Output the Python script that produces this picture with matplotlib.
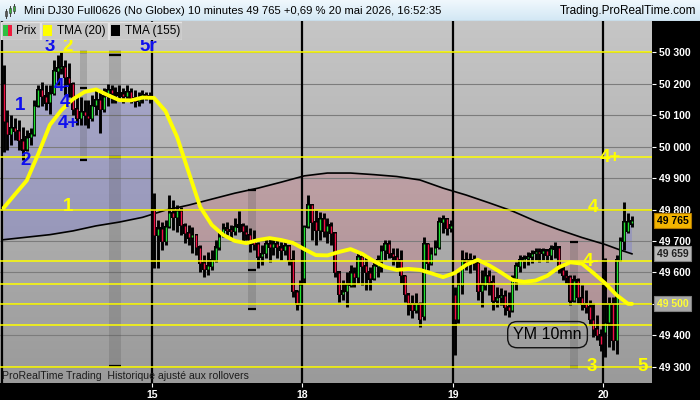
import numpy as np
import matplotlib
matplotlib.use("Agg")
import matplotlib.pyplot as plt
from matplotlib.patches import Rectangle
from matplotlib.colors import LinearSegmentedColormap
import matplotlib.transforms as mtrans

plt.rcParams['font.family'] = ['Liberation Sans', 'DejaVu Sans']

# ---------------- data ----------------
day_labels = ['15', '18', '19', '20']
day_starts = [0, 39, 78, 117, 156]          # first bar index of each session

opens = [50200, 50080, 50040, 50060, 50050, 50020, 49990, 50030, 50040, 50130,
         50180, 50160, 50140, 50170, 50240, 50250, 50255, 50220, 50200, 50120,
         50090, 50110, 50100, 50090, 50130, 50150, 50120, 50160, 50180, 50170,
         50165, 50170, 50160, 50175, 50155, 50145, 50150, 50165, 50160,
         49800, 49718, 49740, 49700, 49745, 49790, 49775, 49795, 49750, 49725,
         49710, 49720, 49680, 49630, 49610, 49620, 49640, 49680, 49715, 49740,
         49735, 49730, 49745, 49750, 49730, 49720, 49700, 49690, 49650, 49660,
         49690, 49680, 49690, 49680, 49670, 49685, 49640, 49540, 49500,
         49582, 49745, 49814, 49760, 49735, 49770, 49730, 49750, 49725, 49600,
         49530, 49540, 49560, 49600, 49585, 49650, 49620, 49600, 49580, 49620,
         49640, 49670, 49690, 49660, 49650, 49640, 49590, 49530, 49500, 49480,
         49500, 49460, 49690, 49630, 49660, 49680, 49760, 49770, 49740,
         49530, 49450, 49560, 49640, 49630, 49640, 49630, 49540, 49560, 49590,
         49570, 49510, 49520, 49525, 49490, 49480, 49580, 49620, 49640, 49645,
         49650, 49660, 49665, 49660, 49670, 49655, 49675, 49680, 49610, 49590,
         49585, 49510, 49575, 49520, 49500, 49490, 49450, 49420, 49400,
         49410, 49440, 49500, 49385, 49639, 49700, 49730, 49755]
highs = [50259, 50117, 50100, 50090, 50085, 50062, 50053, 50060, 50148, 50195,
         50205, 50195, 50195, 50275, 50290, 50300, 50275, 50265, 50205, 50165,
         50158, 50148, 50148, 50165, 50180, 50180, 50187, 50200, 50195, 50190,
         50195, 50187, 50195, 50187, 50180, 50173, 50180, 50173, 50173,
         49852, 49767, 49760, 49767, 49845, 49830, 49814, 49808, 49757, 49751,
         49745, 49722, 49687, 49655, 49665, 49671, 49703, 49729, 49757, 49760,
         49751, 49773, 49795, 49757, 49751, 49741, 49735, 49697, 49687, 49710,
         49713, 49710, 49703, 49697, 49703, 49687, 49671, 49544, 49576,
         49751, 49845, 49818, 49798, 49792, 49789, 49773, 49760, 49730, 49602,
         49576, 49601, 49623, 49617, 49662, 49655, 49655, 49617, 49639, 49655,
         49687, 49703, 49703, 49678, 49678, 49671, 49592, 49535, 49528, 49535,
         49505, 49713, 49695, 49681, 49703, 49776, 49782, 49773, 49767,
         49554, 49600, 49670, 49665, 49662, 49655, 49639, 49608, 49617, 49608,
         49592, 49554, 49550, 49544, 49538, 49592, 49633, 49655, 49655, 49665,
         49671, 49678, 49678, 49678, 49671, 49687, 49697, 49682, 49623, 49608,
         49592, 49592, 49582, 49560, 49544, 49512, 49503, 49465, 49420,
         49645, 49522, 49522, 49655, 49713, 49825, 49790, 49780]
lows = [49983, 49990, 50005, 50020, 49990, 49957, 49985, 50005, 50035, 50125,
        50130, 50115, 50105, 50165, 50195, 50230, 50165, 50157, 50100, 50070,
        50070, 50070, 50060, 50080, 50100, 50042, 50110, 50130, 50140, 50140,
        50148, 50140, 50148, 50140, 50125, 50130, 50140, 50148, 50140,
        49614, 49614, 49671, 49687, 49740, 49735, 49730, 49720, 49694, 49687,
        49662, 49655, 49601, 49585, 49592, 49608, 49633, 49671, 49713, 49719,
        49710, 49719, 49729, 49697, 49703, 49665, 49671, 49614, 49623, 49646,
        49633, 49655, 49646, 49639, 49655, 49623, 49522, 49480, 49496,
        49566, 49740, 49703, 49687, 49703, 49713, 49694, 49687, 49585, 49506,
        49512, 49490, 49553, 49553, 49566, 49560, 49544, 49544, 49576, 49585,
        49601, 49639, 49646, 49623, 49608, 49566, 49506, 49465, 49455, 49470,
        49425, 49449, 49608, 49625, 49655, 49675, 49725, 49719, 49729,
        49338, 49440, 49530, 49608, 49598, 49608, 49512, 49490, 49544, 49528,
        49480, 49490, 49496, 49465, 49458, 49475, 49544, 49601, 49614, 49623,
        49630, 49639, 49633, 49639, 49633, 49639, 49646, 49598, 49576, 49566,
        49496, 49505, 49503, 49480, 49470, 49433, 49395, 49385, 49350,
        49330, 49363, 49353, 49340, 49635, 49671, 49725, 49745]
closes = [50080, 50040, 50060, 50050, 50020, 49990, 50030, 50040, 50130, 50180,
          50160, 50140, 50170, 50240, 50250, 50255, 50220, 50200, 50120, 50090,
          50110, 50100, 50090, 50130, 50150, 50120, 50160, 50180, 50170, 50165,
          50170, 50160, 50175, 50155, 50145, 50150, 50165, 50160, 50155,
          49718, 49740, 49700, 49745, 49790, 49775, 49795, 49750, 49725, 49710,
          49720, 49680, 49630, 49610, 49620, 49640, 49680, 49715, 49740, 49735,
          49730, 49745, 49750, 49730, 49720, 49700, 49690, 49650, 49660, 49690,
          49680, 49690, 49680, 49670, 49685, 49640, 49540, 49500, 49560,
          49745, 49814, 49760, 49735, 49770, 49730, 49750, 49725, 49600, 49530,
          49540, 49560, 49600, 49585, 49650, 49620, 49600, 49580, 49620, 49640,
          49670, 49690, 49660, 49650, 49640, 49590, 49530, 49500, 49480, 49500,
          49450, 49690, 49630, 49660, 49680, 49760, 49770, 49740, 49750,
          49450, 49560, 49640, 49630, 49640, 49630, 49540, 49560, 49590, 49570,
          49510, 49520, 49525, 49490, 49480, 49580, 49620, 49640, 49645, 49650,
          49660, 49665, 49660, 49670, 49655, 49675, 49680, 49610, 49590, 49585,
          49510, 49575, 49520, 49500, 49490, 49450, 49420, 49400, 49370,
          49440, 49500, 49385, 49639, 49700, 49760, 49760, 49765]

tma20_idx = list(range(0, 163, 3)) + [163]
tma20_val = [49805, 49849, 49892, 49977, 50069, 50116, 50151, 50174, 50182, 50164,
             50148, 50147, 50156, 50155, 50113, 50031, 49919, 49808, 49751, 49719,
             49700, 49693, 49703, 49709, 49703, 49694, 49674, 49655, 49654, 49665,
             49674, 49659, 49636, 49617, 49608, 49611, 49608, 49597, 49585, 49598,
             49624, 49640, 49622, 49600, 49576, 49570, 49574, 49589, 49616, 49632,
             49628, 49598, 49566, 49528, 49500, 49500]
tma155_idx = list(range(0, 157, 6)) + [160, 163]
tma155_val = [49704, 49712, 49720, 49732, 49748, 49760, 49775, 49798, 49814, 49833,
              49852, 49868, 49887, 49907, 49916, 49916, 49911, 49905, 49894, 49868,
              49846, 49821, 49795, 49763, 49736, 49711, 49689, 49671, 49659]

hlevels = [50300, 49966, 49800, 49636, 49562, 49500, 49432, 49300]
price_ticks = [49300, 49400, 49500, 49600, 49700, 49800, 49900, 50000, 50100, 50200, 50300]
# the 49 500 scale label is hidden under the TMA(20) value box
price_tick_labels = ['49 300', '49 400', '', '49 600', '49 700', '49 800',
                     '49 900', '50 000', '50 100', '50 200', '50 300']

# vertical zone tools: (first idx, last idx, top, bottom, tick prices)
zones = [(19.8, 21.6, 50300, 49957, [50300, 50187, 49957]),
         (27.3, 30.5, 50300, 49302, [50300, 50290, 49967, 49302]),
         (63.4, 65.5, 49862, 49484, [49862, 49608, 49484]),
         (146.9, 149.0, 49697, 49300, [49697, 49300])]

blue_labels = [('1', 4.3, 50132), ('2', 5.6, 49957), ('3', 12.0, 50320),
               ('5r', 37.5, 50317), ('4-', 15.1, 50190), ('4', 15.9, 50139),
               ('4+', 16.7, 50075)]
yellow_labels = [('2', 16.7, 50320), ('1', 16.7, 49808), ('4+', 157.3, 49967),
                 ('4', 152.9, 49805), ('4-', 152.4, 49636), ('3', 152.6, 49302),
                 ('5', 165.9, 49302)]

last_price, tma155_last, tma20_last = 49765, 49659, 49500

# ---------------- figure ----------------
W, H = 700, 400
fig = plt.figure(figsize=(7, 4), dpi=100, facecolor='black')
ax = fig.add_axes([0, 17 / H, 652 / W, 362 / H])
xlim = (-0.934, 168.2)
ylim = (49248.2, 50399.6)
ax.set_xlim(*xlim)
ax.set_ylim(*ylim)
for s in ax.spines.values():
    s.set_visible(False)

bg = LinearSegmentedColormap.from_list('bg', ['#9a9a9a', '#c6c6c6'])
ax.imshow(np.linspace(0, 1, 256).reshape(-1, 1), cmap=bg, origin='lower',
          extent=[xlim[0], xlim[1], ylim[0], ylim[1]], aspect='auto', zorder=0)

x = np.arange(len(closes))
c = np.array(closes, float)
t155 = np.interp(x, tma155_idx, tma155_val)
ax.fill_between(x, c, t155, where=c >= t155, interpolate=True,
                color=(0.40, 0.40, 0.88, 0.28), lw=0, zorder=1)
ax.fill_between(x, c, t155, where=c < t155, interpolate=True,
                color=(0.85, 0.40, 0.47, 0.25), lw=0, zorder=1)

for p in price_ticks:
    ax.axhline(p, color='#7c7c7c', lw=0.8, zorder=1.5)

for (a, b, top, bot, ticks) in zones:
    ax.add_patch(Rectangle((a, bot), b - a, top - bot, facecolor=(0.3, 0.3, 0.3, 0.22),
                           edgecolor='none', zorder=2))
    for tp in ticks:
        ax.plot([a, b], [tp, tp], color='black', lw=1.6, zorder=2.1,
                solid_capstyle='butt')

ax.plot(tma155_idx, tma155_val, color='black', lw=1.2, zorder=2.5)

for s in day_starts:
    ax.axvline(s - 0.5, color='black', lw=1.6, zorder=3)

o = np.array(opens, float)
hi = np.array(highs, float)
lo = np.array(lows, float)
ax.vlines(x, lo, hi, color='black', lw=2.1, zorder=4)
bot = np.minimum(o, c)
hgt = np.maximum(np.abs(c - o), 4)
ax.bar(x, hgt + 6, bottom=bot - 3, width=0.95, color='black', zorder=4.1)
up = c >= o
cols = np.where(up, '#22e033', '#f01044')
inner_lo = bot + 1
inner_hi = np.maximum(o, c) - 1
m = inner_hi > inner_lo
ax.vlines(x[m], inner_lo[m], inner_hi[m], colors=cols[m], lw=1.0, zorder=4.2)

for lv in hlevels:
    ax.axhline(lv, color='#ffff00', lw=1.1, zorder=5)

ax.plot(tma20_idx, tma20_val, color='#ffff00', lw=2.8, zorder=6,
        solid_capstyle='round', solid_joinstyle='round')

for txt, xi, yp in blue_labels:
    ax.text(xi, yp, txt, color='#1010ee', fontsize=13.5, fontweight='bold',
            ha='center', va='center', zorder=7)
for txt, xi, yp in yellow_labels:
    ax.text(xi, yp, txt, color='#ffff00', fontsize=13.5, fontweight='bold',
            ha='center', va='center', zorder=7)

ax.text(141.1, 49402, 'YM 10mn', fontsize=11.5, color='black', ha='center',
        va='center', zorder=7,
        bbox=dict(boxstyle='round,pad=0.35,rounding_size=0.6', fc='none',
                  ec='#111111', lw=1.0))

ax.yaxis.tick_right()
ax.set_yticks(price_ticks)
ax.set_yticklabels(price_tick_labels)
ax.set_xticks([s - 0.5 for s in day_starts[1:]])
ax.set_xticklabels(day_labels)
ax.tick_params(axis='both', colors='white', labelcolor='white', length=3,
               width=0.8, labelsize=7.5, pad=2)
for lab in ax.get_yticklabels() + ax.get_xticklabels():
    lab.set_fontweight('bold')

# price boxes on the right scale
tr = mtrans.blended_transform_factory(fig.transFigure, ax.transData)
boxes = [(last_price, '#f2b400', '#b07800', 'black'),
         (tma155_last, '#b9b9b9', '#808080', '#202020'),
         (tma20_last, '#a9a9a9', '#808080', '#ffff33')]
for val, fc, ec, tc in boxes:
    ax.text(657 / W, val, f"{val // 1000} {val % 1000:03d}", transform=tr,
            fontsize=7.5, fontweight='bold', color=tc, ha='left', va='center',
            zorder=10, clip_on=False,
            bbox=dict(boxstyle='square,pad=0.25', fc=fc, ec=ec, lw=0.8))

fig.text(2 / W, (H - 376) / H, 'ProRealTime Trading  Historique ajusté aux rollovers',
         fontsize=7.6, color='#1c1c1c', ha='left', va='center')

# ---------------- header ----------------
hax = fig.add_axes([0, (H - 21) / H, 1, 21 / H])
hax.set_xlim(0, W)
hax.set_ylim(21, 0)
hax.axis('off')
hcm = LinearSegmentedColormap.from_list('h', ['#f0f8fd', '#d2e7f4'])
hax.imshow(np.linspace(0, 1, 64).reshape(-1, 1), cmap=hcm, extent=[0, W, 21, 0],
           aspect='auto', zorder=0)
hax.plot([0, W], [20.5, 20.5], color='#9fb4c4', lw=1, zorder=1)
for xi, y0, y1, b0, b1, col in [(6, 9, 18, 11, 16, '#5a5a5a'), (10, 6, 16, 8, 13, '#38b038'),
                                (14, 4, 13, 6, 11, '#38b038')]:
    hax.plot([xi, xi], [y0, y1], color='#404040', lw=0.7, zorder=2)
    hax.add_patch(Rectangle((xi - 1.3, b0), 2.6, b1 - b0, fc=col, ec='#303030', lw=0.4, zorder=3))
hax.text(24, 11, 'Mini DJ30 Full0626 (No Globex) 10 minutes 49 765 +0,69 % 20 mai 2026, 16:52:35',
         fontsize=8.15, color='black', ha='left', va='center', zorder=4)
hax.text(696, 11, 'Trading.ProRealTime.com', fontsize=8.5, color='black',
         ha='right', va='center', zorder=4)

# ---------------- legend row ----------------
lax = fig.add_axes([0, (H - 40) / H, 182 / W, 19 / H])
lax.set_xlim(0, 182)
lax.set_ylim(19, 0)
lax.axis('off')
lax.patch.set_alpha(0)
for (a, b) in [(0, 39), (40, 107), (108, 181)]:
    lax.add_patch(Rectangle((a + 0.5, 0.5), b - a, 18, fc='#c8c8c8', ec='#e4e4e4', lw=1))
lax.add_patch(Rectangle((3, 4), 4.5, 11, fc='#2fc040', ec='none'))
lax.add_patch(Rectangle((7.5, 4), 4.5, 11, fc='#ee1c3c', ec='none'))
lax.add_patch(Rectangle((43, 4), 9, 11, fc='#ffff00', ec='none'))
lax.add_patch(Rectangle((111, 4), 9, 11, fc='#000000', ec='none'))
lax.text(16, 9.8, 'Prix', fontsize=8.5, ha='left', va='center', color='black')
lax.text(57, 9.8, 'TMA (20)', fontsize=8.5, ha='left', va='center', color='black')
lax.text(125, 9.8, 'TMA (155)', fontsize=8.5, ha='left', va='center', color='black')

fig.savefig('out.png', dpi=100, facecolor='black')
